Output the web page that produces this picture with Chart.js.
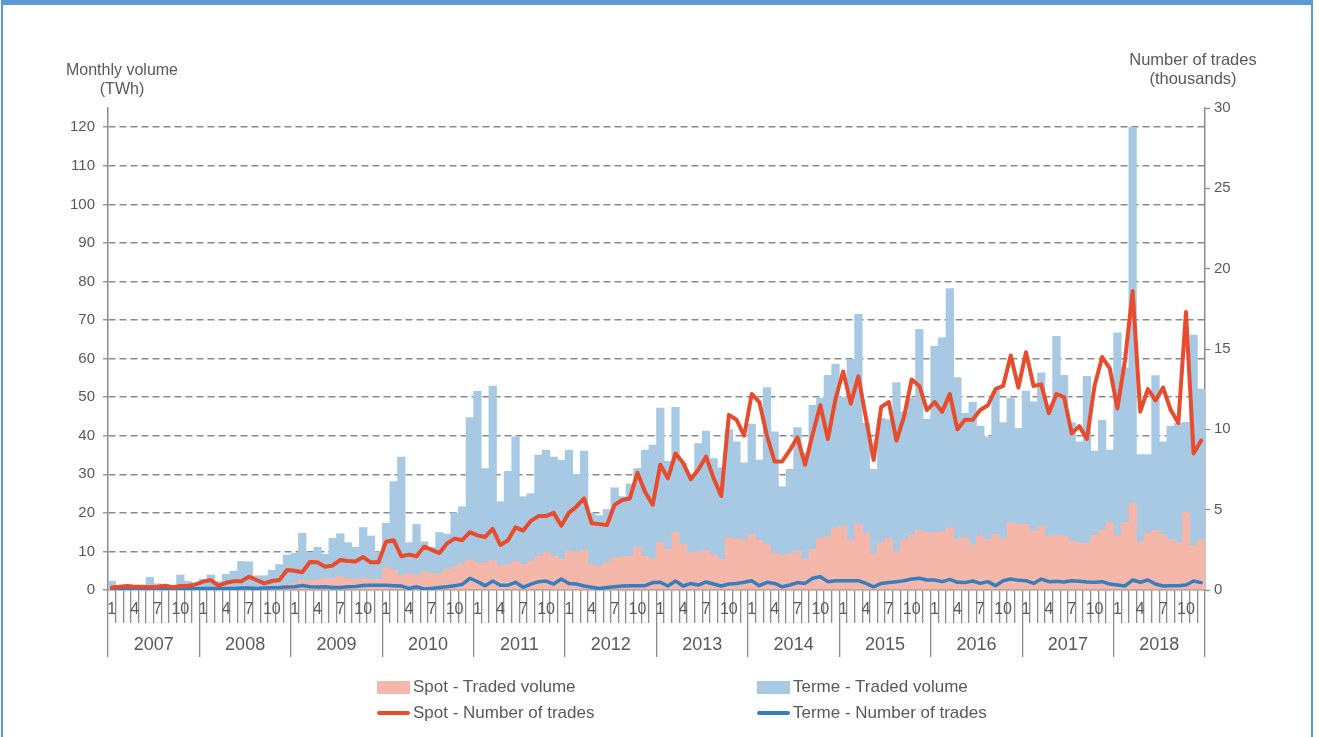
<!DOCTYPE html>
<html>
<head>
<meta charset="utf-8">
<title>Monthly volume and number of trades</title>
<script src="https://cdn.jsdelivr.net/npm/chart.js@4.4.1/dist/chart.umd.min.js"></script>
<style>
  html, body { margin: 0; padding: 0; background: #fff; }
  #wrap {
    position: relative; width: 1319px; height: 737px; overflow: hidden;
    font-family: "Liberation Sans", Arial, sans-serif; color: #595959;
  }
  #frame {
    position: absolute; left: 1px; top: 0; width: 1312px; height: 760px;
    border: 2px solid #5b9bd5; border-top-width: 5px; box-sizing: border-box;
    pointer-events: none;
  }
  .axis-title {
    position: absolute; text-align: center; font-size: 16px; line-height: 19px;
    white-space: nowrap;
  }
  #legend { position: absolute; left: 377px; top: 674px; }
  .legend-row { display: flex; height: 26px; align-items: center; }
  .legend-item { display: flex; align-items: center; width: 380px; font-size: 17px; }
  .legend-swatch { width: 33px; height: 13px; margin-right: 3px; }
  .legend-line { width: 33px; height: 4px; border-radius: 2px; margin-right: 3px; }
  #chart-box { position: absolute; left: 0; top: 0; width: 1319px; height: 737px; }
</style>
</head>
<body>
<div id="wrap">
  <div id="chart-box"><canvas id="trading-chart"></canvas></div>
  <div class="axis-title" style="left: 42px; top: 60px; width: 160px;">Monthly volume<br>(TWh)</div>
  <div class="axis-title" style="left: 1113px; top: 50px; width: 160px; font-size: 16.5px;">Number of trades<br>(thousands)</div>
  <div id="legend"></div>
  <div id="frame"></div>
</div>
<script>
(function () {
  const years = ["2007", "2008", "2009", "2010", "2011", "2012",
                 "2013", "2014", "2015", "2016", "2017", "2018"];
  const monthMarks = ["1", "", "", "4", "", "", "7", "", "", "10", "", ""];

  // TWh per month, one row per year
  const spotVolume = [
    0.3, 0.2, 0.3, 0.2, 0.3, 0.4, 0.4, 0.4, 0.3, 0.5, 0.5, 0.5,
    0.6, 0.7, 0.6, 0.7, 0.8, 0.9, 0.9, 0.8, 0.9, 1.0, 1.2, 1.5,
    1.8, 2.6, 2.4, 2.6, 3.0, 3.0, 3.5, 3.0, 2.8, 3.0, 2.8, 2.8,
    5.8, 5.2, 3.7, 4.3, 3.9, 4.7, 4.3, 4.3, 5.4, 5.9, 6.9, 7.8,
    7.1, 7.1, 7.8, 6.5, 6.6, 7.5, 6.6, 7.5, 8.8, 9.7, 8.8, 7.9,
    10.1, 9.8, 10.4, 6.5, 6.2, 7.1, 8.4, 8.6, 8.8, 11.2, 8.8, 8.1,
    12.3, 10.5, 14.9, 11.9, 9.7, 9.9, 10.2, 9.1, 7.9, 13.6, 13.2, 13.0,
    14.4, 13.0, 11.7, 9.5, 9.1, 9.3, 10.1, 7.9, 10.5, 13.3, 13.8, 16.1,
    16.6, 13.0, 17.1, 14.7, 9.5, 12.3, 13.4, 9.9, 13.0, 14.2, 15.5, 14.9,
    14.9, 15.1, 16.1, 13.1, 13.6, 11.7, 14.1, 13.1, 14.4, 13.4, 17.5, 17.0,
    17.0, 15.3, 16.6, 14.1, 14.1, 14.1, 12.7, 12.1, 12.1, 14.2, 15.5, 17.5,
    14.1, 17.5, 22.5, 12.5, 14.7, 15.5, 14.4, 13.1, 12.3, 20.1, 11.5, 13.0
  ];

  const termeVolume = [
    2.0, 0.4, 0.6, 0.4, 0.5, 2.9, 1.2, 0.9, 0.8, 3.4, 1.7, 1.2,
    2.2, 3.2, 1.6, 3.4, 4.1, 6.5, 6.4, 2.9, 2.8, 4.1, 5.4, 7.6,
    7.7, 12.1, 7.3, 8.5, 6.3, 10.4, 11.1, 9.3, 8.3, 13.2, 11.2, 7.1,
    11.5, 22.9, 30.8, 8.0, 13.1, 7.8, 6.7, 10.6, 9.1, 14.1, 14.7, 36.9,
    44.4, 24.4, 45.1, 16.4, 24.2, 32.2, 17.6, 17.5, 26.2, 26.6, 25.7, 25.7,
    26.2, 20.2, 25.6, 13.4, 13.1, 13.8, 18.1, 15.6, 18.7, 20.3, 27.5, 29.5,
    34.9, 22.9, 32.5, 20.9, 20.3, 28.1, 31.0, 25.0, 23.8, 28.0, 25.2, 20.0,
    28.6, 20.7, 40.8, 31.5, 17.7, 22.0, 32.0, 27.7, 37.4, 36.5, 41.9, 42.5,
    33.4, 46.8, 54.4, 28.5, 21.8, 32.2, 30.8, 43.9, 33.2, 35.6, 52.1, 29.4,
    48.3, 50.3, 62.1, 42.0, 32.2, 37.0, 28.4, 26.6, 37.2, 30.0, 32.3, 24.9,
    34.6, 33.5, 39.7, 33.9, 51.7, 41.6, 30.7, 26.3, 43.3, 21.8, 28.5, 18.8,
    52.6, 40.1, 97.5, 22.6, 20.4, 40.1, 24.0, 29.4, 30.9, 23.4, 54.6, 39.1
  ];

  // thousands of trades per month
  const spotTrades = [
    0.15, 0.2, 0.25, 0.2, 0.2, 0.17, 0.2, 0.27, 0.17, 0.25, 0.25, 0.35,
    0.52, 0.62, 0.27, 0.45, 0.54, 0.54, 0.83, 0.62, 0.41, 0.56, 0.62, 1.24,
    1.2, 1.1, 1.74, 1.72, 1.45, 1.53, 1.87, 1.8, 1.78, 2.05, 1.72, 1.72,
    3.0, 3.1, 2.1, 2.2, 2.1, 2.7, 2.5, 2.3, 2.9, 3.2, 3.1, 3.6,
    3.4, 3.3, 3.8, 2.8, 3.1, 3.9, 3.7, 4.3, 4.6, 4.6, 4.8, 4.0,
    4.8, 5.2, 5.7, 4.15, 4.1, 4.05, 5.3, 5.6, 5.7, 7.3, 6.1, 5.3,
    7.8, 6.95, 8.5, 7.9, 6.9, 7.5, 8.3, 6.95, 5.85, 10.9, 10.6, 9.6,
    12.2, 11.7, 9.6, 8.0, 8.0, 8.7, 9.5, 7.8, 9.7, 11.5, 9.4, 11.9,
    13.6, 11.6, 13.3, 10.7, 8.1, 11.4, 11.7, 9.3, 10.8, 13.1, 12.7, 11.2,
    11.7, 11.1, 12.2, 10.0, 10.6, 10.6, 11.2, 11.5, 12.5, 12.7, 14.6, 12.6,
    14.8, 12.7, 12.8, 11.0, 12.2, 12.0, 9.75, 10.2, 9.4, 12.7, 14.5, 13.8,
    11.3, 14.3, 18.6, 11.1, 12.5, 11.8, 12.6, 11.2, 10.4, 17.3, 8.5, 9.3
  ];

  const termeTrades = [
    0.05, 0.05, 0.05, 0.05, 0.05, 0.05, 0.05, 0.06, 0.06, 0.07, 0.08, 0.08,
    0.1, 0.1, 0.08, 0.1, 0.1, 0.12, 0.12, 0.1, 0.12, 0.14, 0.15, 0.18,
    0.2, 0.28, 0.2, 0.18, 0.2, 0.16, 0.15, 0.2, 0.22, 0.28, 0.3, 0.3,
    0.3, 0.27, 0.25, 0.1, 0.2, 0.06, 0.1, 0.15, 0.2, 0.27, 0.35, 0.73,
    0.52, 0.27, 0.56, 0.3, 0.3, 0.48, 0.17, 0.37, 0.52, 0.56, 0.37, 0.68,
    0.41, 0.37, 0.25, 0.17, 0.1, 0.15, 0.2, 0.25, 0.27, 0.27, 0.27, 0.46,
    0.48, 0.25, 0.56, 0.25, 0.41, 0.31, 0.5, 0.37, 0.25, 0.37, 0.41, 0.48,
    0.58, 0.27, 0.48, 0.41, 0.2, 0.31, 0.46, 0.41, 0.73, 0.83, 0.52, 0.58,
    0.58, 0.58, 0.58, 0.41, 0.2, 0.41, 0.46, 0.52, 0.58, 0.68, 0.73, 0.62,
    0.62, 0.52, 0.66, 0.48, 0.46, 0.56, 0.41, 0.52, 0.27, 0.58, 0.68, 0.6,
    0.58, 0.41, 0.68, 0.52, 0.54, 0.5, 0.58, 0.54, 0.5, 0.48, 0.52, 0.37,
    0.31, 0.25, 0.62, 0.48, 0.62, 0.37, 0.25, 0.27, 0.27, 0.31, 0.56, 0.46
  ];

  const months = [];
  years.forEach(function (y) {
    for (let m = 1; m <= 12; m++) months.push(y + "-" + m);
  });

  const textColor = "#595959";
  const axisColor = "#8c8c8c";
  const gridColor = "#8a8a8a";
  const fontFamily = "'Liberation Sans', Arial, sans-serif";

  // month numbers and years sit inside the tick-mark bands, centred on each category
  const bandLabels = {
    id: "bandLabels",
    afterDraw: function (chart) {
      const ctx = chart.ctx;
      const mx = chart.scales.x;
      const yx = chart.scales.years;
      ctx.save();
      ctx.fillStyle = textColor;
      ctx.textAlign = "center";
      ctx.textBaseline = "middle";
      ctx.font = "16px " + fontFamily;
      mx.ticks.forEach(function (t, i) {
        const text = monthMarks[i % 12];
        if (text) ctx.fillText(text, mx.getPixelForTick(i), mx.top + 20);
      });
      ctx.font = "18px " + fontFamily;
      yx.ticks.forEach(function (t, i) {
        ctx.fillText(years[i], yx.getPixelForTick(i), yx.top + 22);
      });
      ctx.restore();
    },
  };

  const bandGrid = {
    display: true,
    drawOnChartArea: false,
    offset: true,
    color: axisColor,
    tickColor: axisColor,
    tickWidth: 1.3,
    lineWidth: 1.3,
  };

  const canvas = document.getElementById("trading-chart");
  const chart = new Chart(canvas, {
    type: "bar",
    data: {
      labels: months,
      datasets: [
        {
          type: "bar",
          label: "Spot - Traded volume",
          data: spotVolume,
          backgroundColor: "#f4b7aa",
          borderWidth: 0,
          barPercentage: 1,
          categoryPercentage: 1,
          stack: "volume",
          yAxisID: "y",
          order: 2,
        },
        {
          type: "bar",
          label: "Terme - Traded volume",
          data: termeVolume,
          backgroundColor: "#a7c9e4",
          borderWidth: 0,
          barPercentage: 1,
          categoryPercentage: 1,
          stack: "volume",
          yAxisID: "y",
          order: 2,
        },
        {
          type: "line",
          label: "Spot - Number of trades",
          data: spotTrades,
          borderColor: "#e84c2c",
          backgroundColor: "#e84c2c",
          borderWidth: 4,
          pointRadius: 0,
          tension: 0,
          borderJoinStyle: "round",
          borderCapStyle: "round",
          yAxisID: "y1",
          order: 0,
        },
        {
          type: "line",
          label: "Terme - Number of trades",
          data: termeTrades,
          borderColor: "#377ebf",
          backgroundColor: "#377ebf",
          borderWidth: 3.5,
          pointRadius: 0,
          tension: 0,
          borderJoinStyle: "round",
          borderCapStyle: "round",
          yAxisID: "y1",
          order: 1,
        },
      ],
    },
    options: {
      responsive: true,
      maintainAspectRatio: false,
      animation: false,
      events: [],
      layout: { padding: { top: 108, bottom: 80, left: 0, right: 0 } },
      plugins: {
        legend: { display: false },
        tooltip: { enabled: false },
      },
      scales: {
        x: {
          type: "category",
          stacked: true,
          offset: true,
          grid: Object.assign({}, bandGrid, { tickLength: 33 }),
          border: { display: true, color: axisColor, width: 1.5 },
          ticks: { display: false, autoSkip: false },
        },
        years: {
          type: "category",
          position: "bottom",
          labels: years,
          offset: true,
          weight: 1,
          grid: Object.assign({}, bandGrid, { tickLength: 34 }),
          border: { display: false },
          ticks: { display: false, autoSkip: false },
        },
        y: {
          type: "linear",
          position: "left",
          stacked: true,
          min: 0,
          max: 125,
          afterBuildTicks: function (scale) {
            scale.ticks = scale.ticks.filter(function (t) {
              return t.value % 10 === 0;
            });
          },
          afterFit: function (scale) {
            scale.width = 108;
          },
          grid: {
            color: function (ctx) {
              return ctx.tick && ctx.tick.value === 0 ? "rgba(0,0,0,0)" : gridColor;
            },
            lineWidth: 1.6,
            tickColor: axisColor,
            tickLength: 5,
            tickWidth: 1.3,
            tickBorderDash: [],
          },
          border: { display: true, color: axisColor, width: 1.5, dash: [7, 4] },
          ticks: {
            stepSize: 10,
            padding: 8,
            color: textColor,
            font: { family: fontFamily, size: 15 },
          },
        },
        y1: {
          type: "linear",
          position: "right",
          min: 0,
          max: 30,
          afterFit: function (scale) {
            scale.width = 114;
          },
          grid: {
            drawOnChartArea: false,
            tickColor: axisColor,
            tickLength: 5,
            tickWidth: 1.3,
          },
          border: { display: true, color: axisColor, width: 1.5 },
          ticks: {
            stepSize: 5,
            padding: 4,
            color: textColor,
            font: { family: fontFamily, size: 15 },
          },
        },
      },
    },
    plugins: [bandLabels],
  });

  // two-column legend, built from the chart's own datasets
  const legendEl = document.getElementById("legend");
  const rows = [[0, 1], [2, 3]];
  rows.forEach(function (row) {
    const rowEl = document.createElement("div");
    rowEl.className = "legend-row";
    row.forEach(function (idx) {
      const ds = chart.data.datasets[idx];
      const item = document.createElement("div");
      item.className = "legend-item";
      const mark = document.createElement("span");
      if (ds.type === "line") {
        mark.className = "legend-line";
        mark.style.background = ds.borderColor;
      } else {
        mark.className = "legend-swatch";
        mark.style.background = ds.backgroundColor;
      }
      const label = document.createElement("span");
      label.textContent = ds.label;
      item.appendChild(mark);
      item.appendChild(label);
      rowEl.appendChild(item);
    });
    legendEl.appendChild(rowEl);
  });
})();
</script>
</body>
</html>
